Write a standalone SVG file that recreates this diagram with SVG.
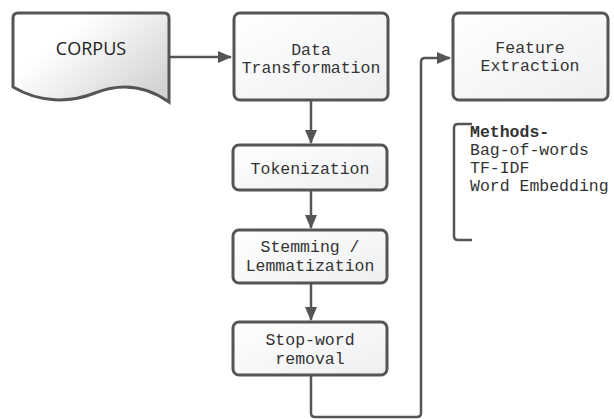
<svg xmlns="http://www.w3.org/2000/svg" width="614" height="419" viewBox="0 0 614 419">
<style>
.box{stroke:#555;stroke-width:3;fill:url(#g)}
.t{font-family:"Liberation Mono",monospace;font-size:16.5px;fill:#333;text-anchor:middle}
.m{font-family:"Liberation Mono",monospace;font-size:16.5px;fill:#333}
.c{fill:none;stroke:#555;stroke-width:2.5}
</style>
<defs>
<linearGradient id="g" x1="0" y1="0" x2="1" y2="1">
<stop offset="0" stop-color="#fff"/><stop offset="1" stop-color="#eeeff1"/>
</linearGradient>
<linearGradient id="gc" x1="0.3" y1="0.3" x2="1" y2="0.8">
<stop offset="0" stop-color="#fff"/><stop offset="1" stop-color="#d2d2d2"/>
</linearGradient>
<marker id="a" markerWidth="14" markerHeight="12" refX="13" refY="6" orient="auto" markerUnits="userSpaceOnUse">
<path d="M0,0 L14,6 L0,12 Z" fill="#555"/>
</marker>
</defs>
<g id="connectors">
<line class="c" x1="170" y1="57" x2="231" y2="57" marker-end="url(#a)"/>
<line class="c" x1="311" y1="101" x2="311" y2="143" marker-end="url(#a)"/>
<line class="c" x1="311" y1="191" x2="311" y2="228" marker-end="url(#a)"/>
<line class="c" x1="311" y1="284" x2="311" y2="320" marker-end="url(#a)"/>
<path class="c" d="M311,376 V413 Q311,417 315,417 H417 Q421,417 421,413 V62 Q421,58 425,58 H450" marker-end="url(#a)"/>
</g>
<g id="corpus">
<path d="M13,18 Q13,13 18,13 H164 Q169,13 169,18 V102 C145,85 120,83 95,93 C70,103 40,103 13,87 Z" fill="url(#gc)" stroke="#555" stroke-width="3"/>
<text x="91" y="55" font-family="'Open Sans',sans-serif" font-size="18" fill="#222" text-anchor="middle">CORPUS</text>
</g>
<g id="data-transformation">
<rect class="box" x="234" y="13" width="154" height="87" rx="6"/>
<text class="t" x="311" y="55">Data</text>
<text class="t" x="311" y="73">Transformation</text>
</g>
<g id="tokenization">
<rect class="box" x="233" y="145" width="154" height="45" rx="6"/>
<text class="t" x="310" y="174">Tokenization</text>
</g>
<g id="stemming">
<rect class="box" x="233" y="230" width="154" height="53" rx="6"/>
<text class="t" x="310" y="252">Stemming /</text>
<text class="t" x="310" y="271">Lemmatization</text>
</g>
<g id="stopword">
<rect class="box" x="233" y="322" width="154" height="53" rx="6"/>
<text class="t" x="310" y="345">Stop-word</text>
<text class="t" x="310" y="364">removal</text>
</g>
<g id="feature-extraction">
<rect class="box" x="453" y="13" width="155" height="87" rx="6"/>
<text class="t" x="530" y="53">Feature</text>
<text class="t" x="530" y="71">Extraction</text>
</g>
<g id="methods">
<path d="M472,124 H458 Q454,124 454,128 V236 Q454,240 458,240 H472" fill="none" stroke="#555" stroke-width="2.5"/>
<text class="m" x="470" y="137" font-weight="bold">Methods-</text>
<text class="m" x="470" y="155">Bag-of-words</text>
<text class="m" x="470" y="173">TF-IDF</text>
<text class="m" x="470" y="191">Word Embedding</text>
</g>
</svg>
